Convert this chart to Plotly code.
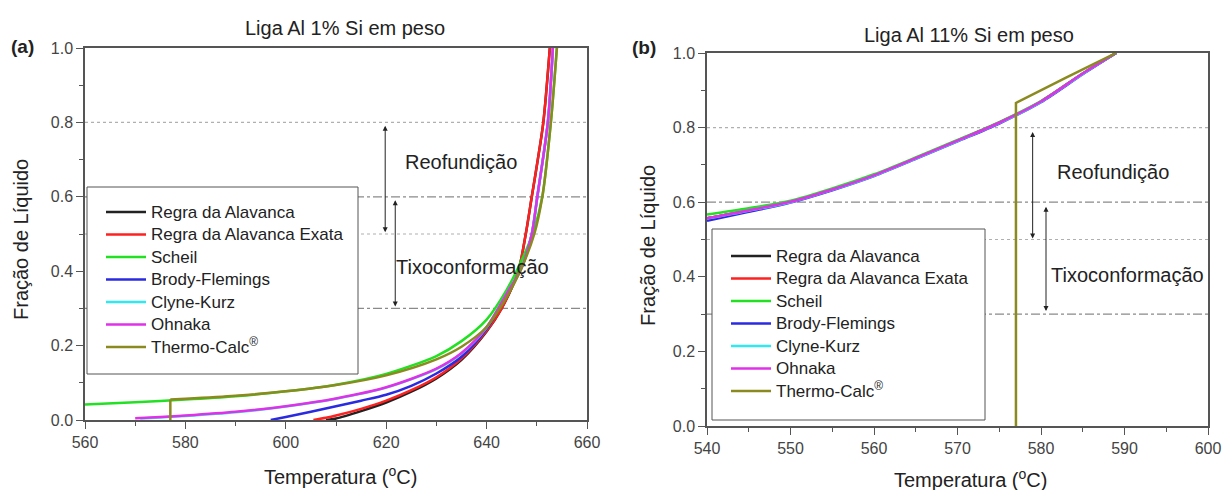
import plotly.graph_objects as go

# ---------------- Panel (a): Liga Al 1% Si ----------------
a_lever_T = [608, 610, 615, 620, 625, 630, 635, 640, 643, 646.3, 647.8, 649, 650.2, 651.3, 652.6]
a_lever_f = [0.0, 0.004, 0.024, 0.047, 0.076, 0.112, 0.162, 0.238, 0.3, 0.4, 0.5, 0.6, 0.7, 0.8, 1.0]
a_exata_T = [605.5, 608, 610, 615, 620, 625, 630, 635, 640, 643, 646.3, 647.8, 649, 650.2, 651.3, 652.6]
a_exata_f = [0.0, 0.006, 0.012, 0.03, 0.052, 0.08, 0.115, 0.165, 0.24, 0.3, 0.4, 0.5, 0.6, 0.7, 0.8, 1.0]
a_scheil_T = [560, 570, 580, 590, 600, 610, 620, 630, 635, 640, 644, 647, 649.4, 651.1, 652.8, 654.0]
a_scheil_f = [0.042, 0.048, 0.055, 0.064, 0.077, 0.095, 0.124, 0.172, 0.212, 0.27, 0.35, 0.43, 0.51, 0.6, 0.8, 1.0]
a_brody_T = [597, 600, 605, 610, 615, 620, 625, 630, 635, 640, 644, 647, 649, 650.1, 652.2, 653.2]
a_brody_f = [0.0, 0.008, 0.022, 0.037, 0.052, 0.068, 0.092, 0.125, 0.17, 0.245, 0.335, 0.41, 0.5, 0.6, 0.8, 1.0]
a_clyne_T = [571, 575, 580, 590, 600, 610, 620, 630, 635, 640, 644, 647, 649, 650.1, 652.2, 653.2]
a_clyne_f = [0.004, 0.007, 0.011, 0.021, 0.036, 0.057, 0.087, 0.137, 0.179, 0.249, 0.34, 0.41, 0.5, 0.6, 0.8, 1.0]
a_ohnaka_T = [570, 575, 580, 590, 600, 610, 620, 630, 635, 640, 644, 647, 649, 650.1, 652.2, 653.2]
a_ohnaka_f = [0.005, 0.008, 0.012, 0.022, 0.037, 0.058, 0.088, 0.138, 0.18, 0.25, 0.34, 0.41, 0.5, 0.6, 0.8, 1.0]
a_thermo_T = [577, 580, 590, 600, 610, 620, 630, 635, 640, 644, 647, 649.5, 651.1, 652.8, 654.0]
a_thermo_f = [0.055, 0.057, 0.065, 0.077, 0.094, 0.12, 0.163, 0.197, 0.25, 0.33, 0.41, 0.5, 0.6, 0.8, 1.0]
a_eutectic_T = 577
a_eutectic_f = 0.055

# ---------------- Panel (b): Liga Al 11% Si ----------------
b_T = [540, 545, 550, 555, 560, 565, 570, 575, 580, 585, 589]
b_lever_f = [0.557, 0.578, 0.601, 0.634, 0.672, 0.718, 0.765, 0.813, 0.87, 0.945, 1.0]
b_exata_f = [0.557, 0.578, 0.601, 0.634, 0.672, 0.718, 0.765, 0.813, 0.87, 0.945, 1.0]
b_scheil_f = [0.567, 0.584, 0.604, 0.637, 0.675, 0.72, 0.767, 0.815, 0.871, 0.945, 1.0]
b_brody_f = [0.550, 0.574, 0.599, 0.632, 0.670, 0.716, 0.763, 0.811, 0.868, 0.943, 1.0]
b_clyne_f = [0.556, 0.577, 0.600, 0.633, 0.671, 0.717, 0.764, 0.812, 0.869, 0.944, 1.0]
b_ohnaka_f = [0.557, 0.578, 0.601, 0.634, 0.672, 0.718, 0.765, 0.813, 0.87, 0.945, 1.0]
b_thermo_T = [577, 577, 583, 589]
b_thermo_f = [0.0, 0.866, 0.934, 1.0]

series_names = ["Regra da Alavanca", "Regra da Alavanca Exata", "Scheil", "Brody-Flemings",
                "Clyne-Kurz", "Ohnaka", "Thermo-Calc<sup>®</sup>"]
series_colors = ["#222222", "#ff2020", "#22e022", "#2a2ae0", "#30e8f0", "#e030e8", "#8a8a1e"]

ref_levels = [0.8, 0.6, 0.5, 0.3]
ref_styles = [("dot", "#b0b0b0"), ("dashdot", "#8a8a8a"), ("dot", "#b0b0b0"), ("dashdot", "#8a8a8a")]

FONT = "Arial, Liberation Sans, sans-serif"
W, H = 1224, 490
fig = go.Figure()


def leg_name(n):
    return "<span style='font-size:17px'>" + n + "</span>"


a_data = [(a_lever_T, a_lever_f), (a_exata_T, a_exata_f), (a_scheil_T, a_scheil_f),
          (a_brody_T, a_brody_f), (a_clyne_T, a_clyne_f), (a_ohnaka_T, a_ohnaka_f),
          (a_thermo_T, a_thermo_f)]
for (T, f), name, col in zip(a_data, series_names, series_colors):
    fig.add_trace(go.Scatter(x=T, y=f, mode="lines", name=leg_name(name),
                             line=dict(color=col, width=2.5, shape="spline", smoothing=0.8),
                             xaxis="x", yaxis="y", legend="legend"))
fig.add_trace(go.Scatter(x=[a_eutectic_T, a_eutectic_T], y=[0, a_eutectic_f], mode="lines",
                         line=dict(color=series_colors[6], width=2.5), showlegend=False,
                         xaxis="x", yaxis="y"))

b_data = [b_lever_f, b_exata_f, b_scheil_f, b_brody_f, b_clyne_f, b_ohnaka_f]
for f, name, col in zip(b_data, series_names[:6], series_colors[:6]):
    fig.add_trace(go.Scatter(x=b_T, y=f, mode="lines", name=leg_name(name),
                             line=dict(color=col, width=2.5, shape="spline", smoothing=0.8),
                             xaxis="x2", yaxis="y2", legend="legend2"))
fig.add_trace(go.Scatter(x=b_thermo_T, y=b_thermo_f, mode="lines", name=leg_name(series_names[6]),
                         line=dict(color=series_colors[6], width=2.5),
                         xaxis="x2", yaxis="y2", legend="legend2"))

shapes = []
for xr, yr in (("x domain", "y"), ("x2 domain", "y2")):
    for lvl, (dash, col) in zip(ref_levels, ref_styles):
        shapes.append(dict(type="line", xref=xr, yref=yr, x0=0, x1=1, y0=lvl, y1=lvl,
                           line=dict(color=col, width=1.2, dash=dash), layer="below"))

# legend frames (opaque white boxes above the curves, under the legend entries)
for (x0, y0, x1, y1) in ((87, 187, 358, 374), (712, 229, 985, 420)):
    shapes.append(dict(type="rect", xref="paper", yref="paper", x0=x0 / W, x1=x1 / W,
                       y0=1 - y1 / H, y1=1 - y0 / H, fillcolor="white",
                       line=dict(color="#555", width=1), layer="above"))


def arrow(xref, yref, x, y0, y1):
    return dict(xref=xref, yref=yref, axref=xref, ayref=yref, x=x, y=y1, ax=x, ay=y0,
                text="", showarrow=True, arrowhead=2, arrowside="end+start",
                arrowsize=1, arrowwidth=1, arrowcolor="#222", standoff=0, startstandoff=0)


def label(x, y, text, size, angle=0):
    return dict(xref="paper", yref="paper", x=x / W, y=1 - y / H, xanchor="center",
                yanchor="middle", text=text, showarrow=False, textangle=angle,
                font=dict(size=size, color="#222", family=FONT))


def dlabel(xref, yref, x, y, text, size):
    return dict(xref=xref, yref=yref, x=x, y=y, xanchor="center", yanchor="middle",
                text=text, showarrow=False, font=dict(size=size, color="#222", family=FONT))


ann = [
    arrow("x", "y", 619.8, 0.795, 0.505),
    arrow("x", "y", 621.8, 0.595, 0.305),
    arrow("x2", "y2", 579.0, 0.792, 0.503),
    arrow("x2", "y2", 580.6, 0.592, 0.308),
    dlabel("x", "y", 634.9, 0.694, "Reofundição", 20),
    dlabel("x", "y", 637.1, 0.411, "Tixoconformação", 20),
    dlabel("x2", "y2", 588.6, 0.68, "Reofundição", 20),
    dlabel("x2", "y2", 590.3, 0.405, "Tixoconformação", 20),
    label(345, 28, "Liga Al 1% Si em peso", 20),
    label(969, 35, "Liga Al 11% Si em peso", 20),
    label(22, 46, "<b>(a)</b>", 19),
    label(644, 47, "<b>(b)</b>", 19),
    label(21, 240, "Fração de Líquido", 20, -90),
    label(648, 246, "Fração de Líquido", 20, -90),
    label(340, 475, "Temperatura (<sup>o</sup>C)", 20),
    label(970, 478, "Temperatura (<sup>o</sup>C)", 20),
]


def xax(domain, rng, dtick, minor, anchor):
    return dict(domain=domain, range=rng, dtick=dtick, tick0=rng[0], anchor=anchor,
                showgrid=False, zeroline=False, showline=True, linecolor="#555", linewidth=1.5,
                mirror=True, ticks="outside", ticklen=7, tickwidth=1.2, tickcolor="#555",
                minor=dict(ticks="outside", ticklen=4, dtick=minor, tickcolor="#555"),
                tickfont=dict(size=16, color="#444", family=FONT))


def yax(domain, anchor):
    return dict(domain=domain, range=[0, 1.0], dtick=0.2, tick0=0, anchor=anchor,
                tickformat=".1f", showgrid=False, zeroline=False, showline=True,
                linecolor="#555", linewidth=1.5, mirror=True, ticks="outside", ticklen=7,
                tickwidth=1.2, tickcolor="#555",
                minor=dict(ticks="outside", ticklen=4, dtick=0.1, tickcolor="#555"),
                tickfont=dict(size=16, color="#444", family=FONT))


legend_common = dict(xanchor="left", yanchor="top", bgcolor="rgba(0,0,0,0)", borderwidth=0,
                     font=dict(size=15, color="#222", family=FONT),
                     itemwidth=40, tracegroupgap=0,
                     title=dict(text=" ", font=dict(size=6)))

fig.update_layout(
    width=W, height=H, margin=dict(l=0, r=0, t=0, b=0, autoexpand=False),
    paper_bgcolor="white", plot_bgcolor="white",
    xaxis=xax([85 / W, 587 / W], [560, 660], 20, 10, "y"),
    yaxis=yax([1 - 420 / H, 1 - 48 / H], "x"),
    xaxis2=xax([707 / W, 1208 / W], [540, 600], 10, 5, "y2"),
    yaxis2=yax([1 - 426 / H, 1 - 53 / H], "x2"),
    legend=dict(x=101 / W, y=1 - 188 / H, **legend_common),
    legend2=dict(x=726 / W, y=1 - 232 / H, **legend_common),
    shapes=shapes, annotations=ann, showlegend=True,
)

fig.write_html("out.html", config={"displayModeBar": False},
               post_script="document.body.style.margin='0';document.body.style.overflow='hidden';")
